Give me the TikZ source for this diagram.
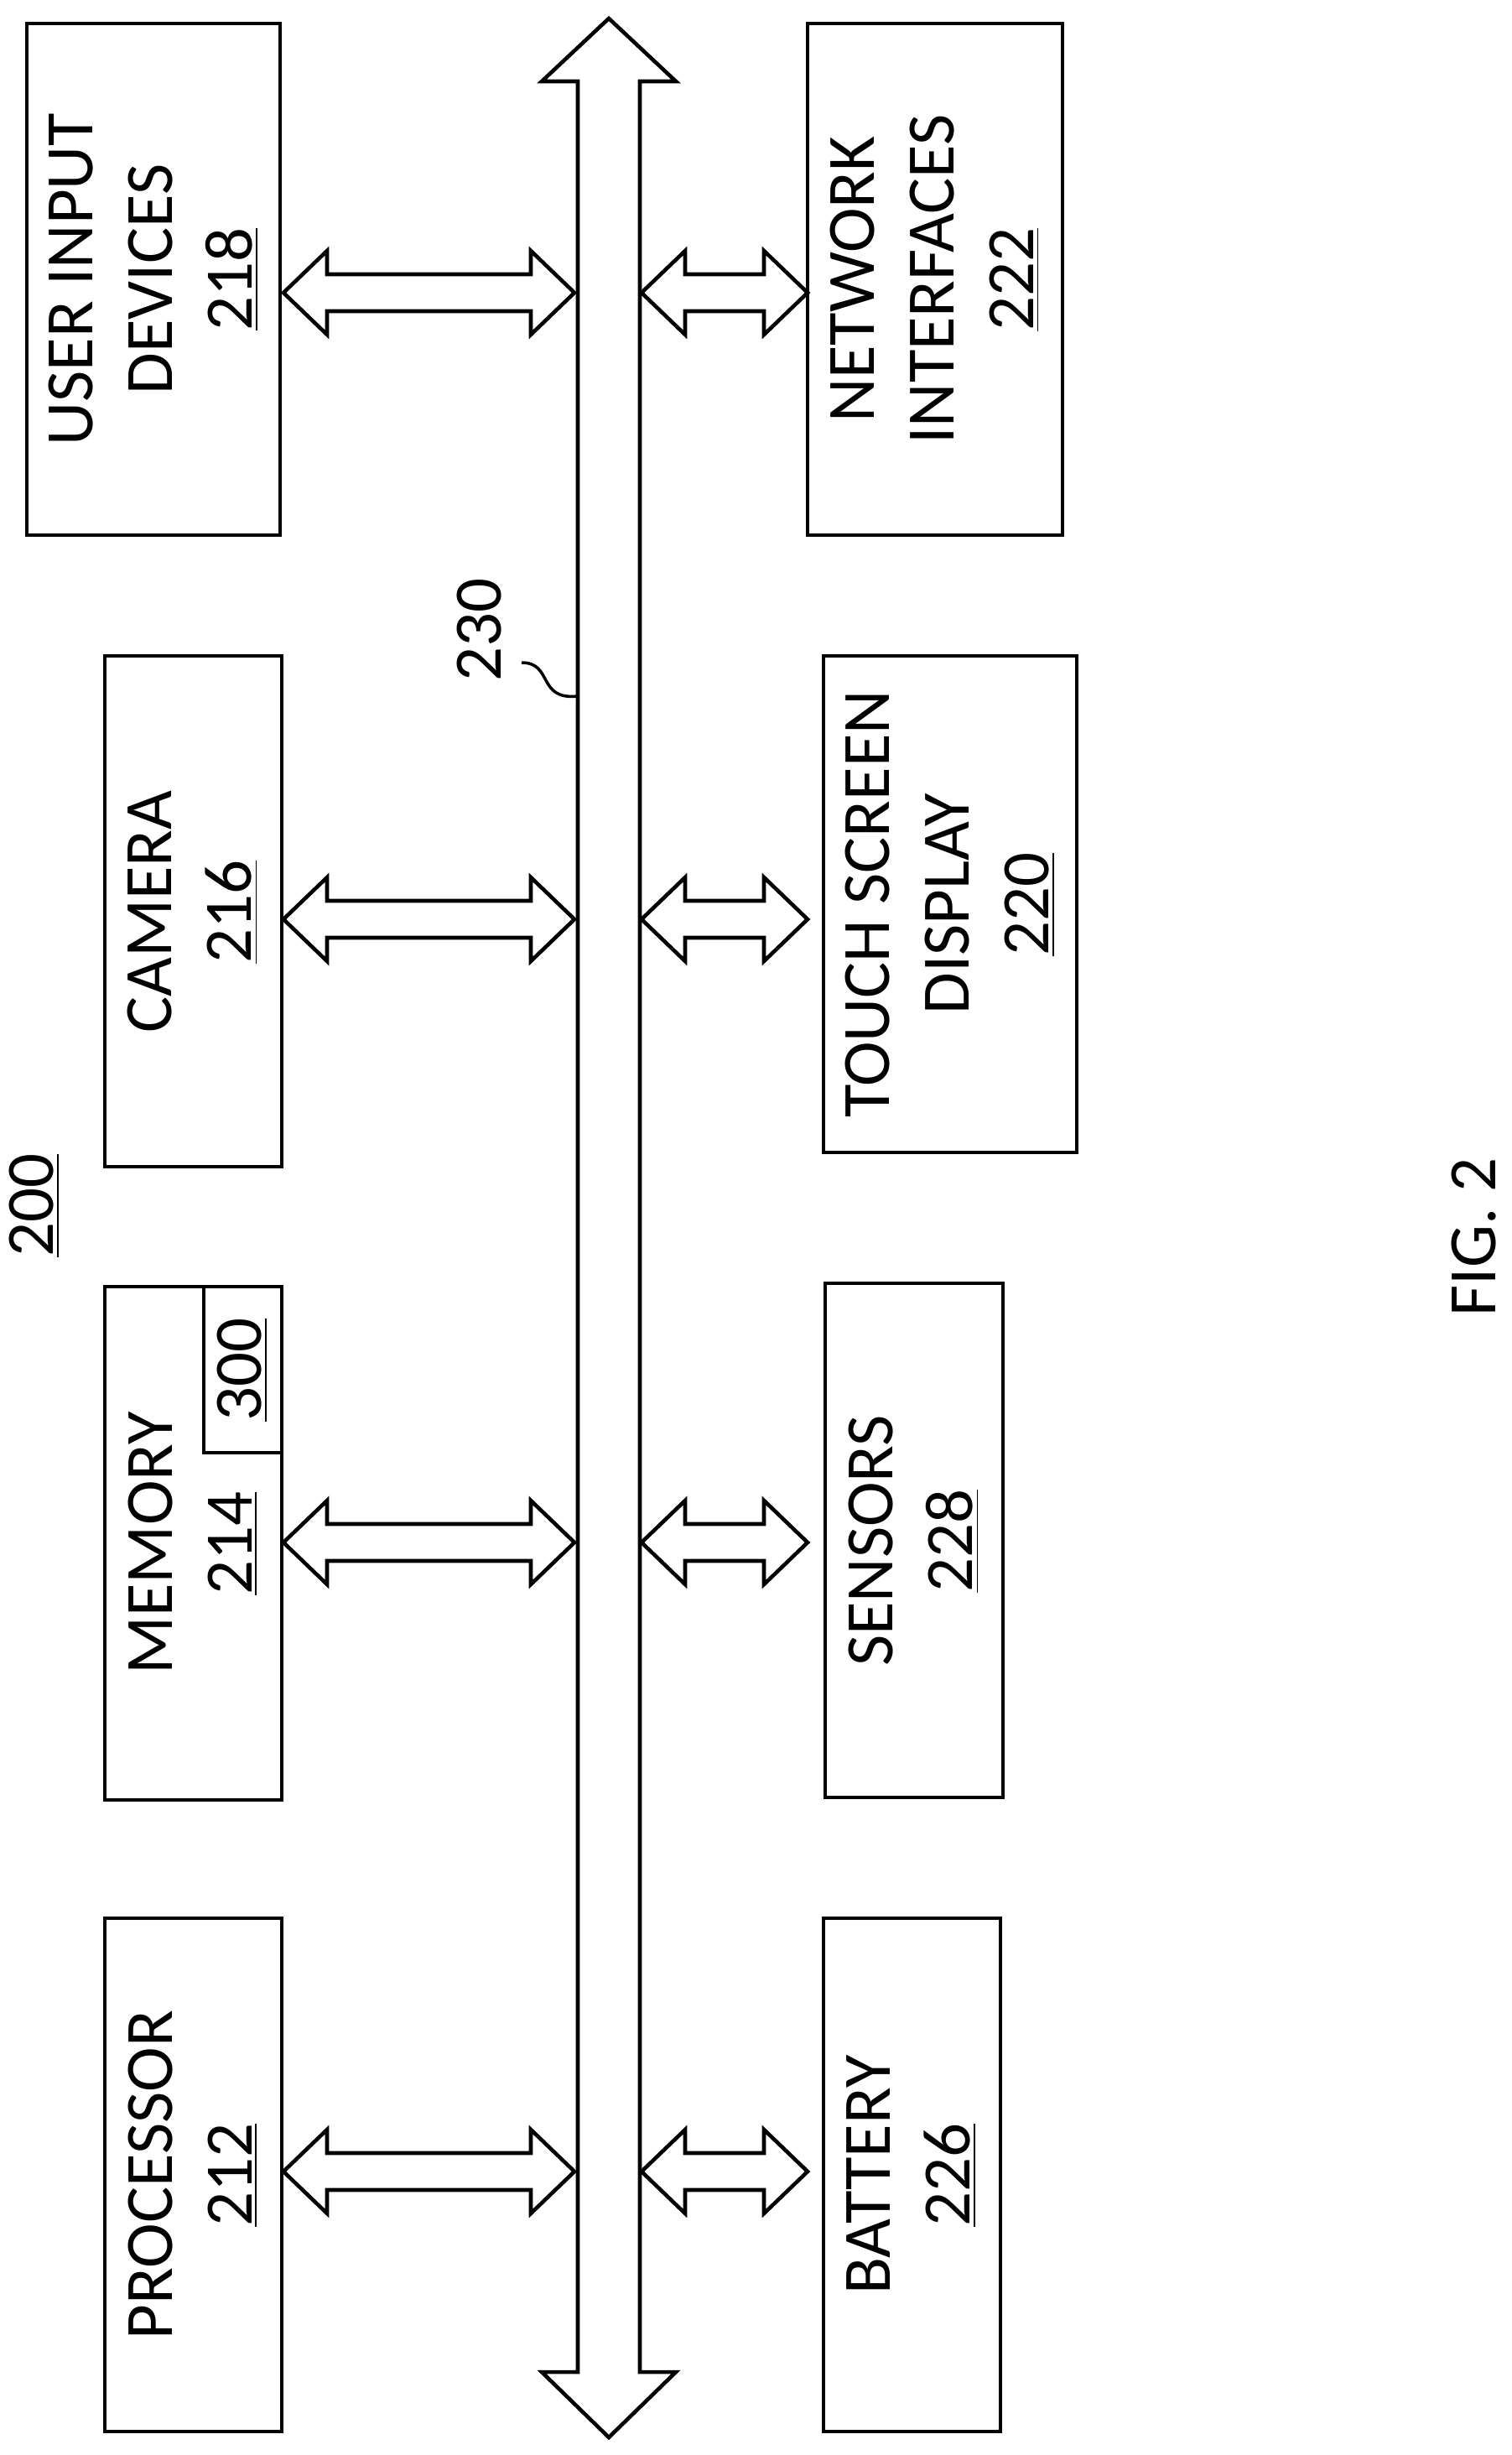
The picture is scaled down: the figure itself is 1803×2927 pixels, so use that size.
\documentclass[tikz,border=0pt]{standalone}
\usepackage{fontspec}
\setmainfont{Carlito}
\begin{document}
\begin{tikzpicture}[x=0.01cm,y=-0.01cm,line width=1.3pt,line join=miter,
  lbl/.style={rotate=90,align=center,font=\fontsize{23}{27}\selectfont}]
\useasboundingbox (0,0) rectangle (1803,2927);
\tikzset{box/.style args={#1/#2/#3/#4}{}}
% boxes
\draw (32,28) rectangle (334,638);
\node[lbl] (uid) at (183,333) {USER INPUT\\DEVICES\\\underline{218}};
\draw (963,28) rectangle (1267,638);
\node[lbl] (net) at (1115,333) {NETWORK\\INTERFACES\\\underline{222}};
\draw (125,782) rectangle (336,1391);
\node[lbl] (cam) at (230,1087) {CAMERA\\\underline{216}};
\draw (982,782) rectangle (1284,1374);
\node[lbl] (tsd) at (1133,1078) {TOUCH SCREEN\\DISPLAY\\\underline{220}};
\draw (125,1534) rectangle (336,2146);
\draw (243,1534) rectangle (336,1732);
\node[lbl] (m300) at (289,1633) {\underline{300}};
\node[lbl] (mem) at (230,1840) {MEMORY\\\underline{214}};
\draw (984,1530) rectangle (1196,2143);
\node[lbl] (sen) at (1090,1837) {SENSORS\\\underline{228}};
\draw (125,2287) rectangle (336,2899);
\node[lbl] (proc) at (230,2593) {PROCESSOR\\\underline{212}};
\draw (982,2287) rectangle (1193,2899);
\node[lbl] (bat) at (1087,2593) {BATTERY\\\underline{226}};
% bus
\draw (726,22) -- (806,97) -- (763,97) -- (763,2828) -- (806,2828) -- (726,2906)
  -- (646,2828) -- (689,2828) -- (689,97) -- (646,97) -- cycle;
% double arrows
\foreach \a/\b/\y in {338/685/349, 338/685/1096, 338/685/1839, 338/685/2589,
                      765/963/349, 765/963/1096, 765/963/1839, 765/963/2589}{
  \draw (\a,\y) -- (\a+52,\y-50) -- (\a+52,\y-22) -- (\b-52,\y-22) -- (\b-52,\y-50)
    -- (\b,\y) -- (\b-52,\y+50) -- (\b-52,\y+22) -- (\a+52,\y+22) -- (\a+52,\y+50) -- cycle;
}
% labels
\node[lbl,anchor=south west,inner sep=0] (l230) at (600,815) {230};
\coordinate (b230) at (689,830);
\draw[line width=1pt] (622,790) .. controls (660,790) and (640,835) .. (b230);
\node[lbl] (l200) at (41,1437) {\underline{200}};
\node[lbl] (fig) at (1758,1475) {FIG. 2};
\end{tikzpicture}
\end{document}
